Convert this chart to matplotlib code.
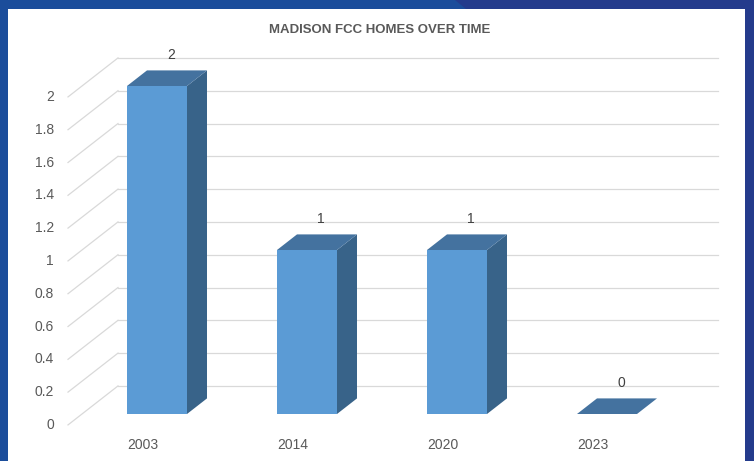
import matplotlib
matplotlib.use('Agg')
import matplotlib.pyplot as plt
from matplotlib.patches import Polygon, Rectangle

# === Dati ===
years = ['2003', '2014', '2020', '2023']
homes = [2, 1, 1, 0]
value_ticks = [0, 0.2, 0.4, 0.6, 0.8, 1.0, 1.2, 1.4, 1.6, 1.8, 2.0]
value_tick_labels = ['0', '0.2', '0.4', '0.6', '0.8', '1', '1.2', '1.4', '1.6', '1.8', '2']
title = 'MADISON FCC HOMES OVER TIME'

# === Configurazione ===
W, H = 754, 461
plt.rcParams['font.family'] = ['Liberation Sans', 'DejaVu Sans']
text_col = '#595959'
grid_col = '#d9d9d9'
front_col = '#5b9bd5'
side_col = '#386389'
top_col = '#44729f'

# pixel per unita' (categoria / valore)
px_x, px_y = 150.0, 164.0
# vettore di profondita' (una profondita' di barra)
DX, DY = 20 / px_x, 15.6 / px_y
d_back, d_front = 1.8, -0.7
bar_w = 0.4


def proj(x, v, d):
    return x + d * DX, v + d * DY


fig = plt.figure(figsize=(W / 100, H / 100), dpi=100, facecolor='#1b4d9b')

# Cornice blu e pannello bianco
fig.patches.append(Polygon([[455 / W, 1], [1, 1], [1, 0], [745 / W, 0],
                            [745 / W, 1 - 9 / H], [466 / W, 1 - 9 / H]],
                           closed=True, transform=fig.transFigure,
                           facecolor='#243b8c', edgecolor='none', zorder=-2))
fig.patches.append(Rectangle((8 / W, 0), 737 / W, 1 - 9 / H,
                             transform=fig.transFigure, facecolor='white',
                             edgecolor='none', zorder=-1))

ax = fig.add_axes([0, 0, 1, 1])
ax.set_xlim(-157 / px_x, (W - 157) / px_x)
ax.set_ylim(-(H - 414) / px_y, 414 / px_y)
ax.axis('off')
ax.patch.set_alpha(0)

x_lo, x_hi = -0.5, len(years) - 0.5

# Griglia: parete di fondo + parete laterale
for v, lab in zip(value_ticks, value_tick_labels):
    xa, ya = proj(x_lo, v, d_back)
    xb, yb = proj(x_hi, v, d_back)
    ax.plot([xa, xb], [ya, yb], color=grid_col, lw=0.9, zorder=1)
    xf, yf = proj(x_lo, v, d_front)
    ax.plot([xf, xa], [yf, ya], color=grid_col, lw=0.9, zorder=1)
    ax.annotate(lab, (xf, yf), xytext=(-10, 0), textcoords='offset points',
                ha='right', va='center', fontsize=10, color=text_col)

# Barre 3D
for i, (yr, val) in enumerate(zip(years, homes)):
    x0, x1 = i - bar_w / 2, i + bar_w / 2
    if val > 0:
        side = [(x1, 0), (x1, val), proj(x1, val, 1), proj(x1, 0, 1)]
        ax.add_patch(Polygon(side, closed=True, facecolor=side_col,
                             edgecolor='none', zorder=2))
        ax.add_patch(Rectangle((x0, 0), bar_w, val, facecolor=front_col,
                               edgecolor='none', zorder=3))
    top = [(x0, val), (x1, val), proj(x1, val, 1), proj(x0, val, 1)]
    ax.add_patch(Polygon(top, closed=True, facecolor=top_col,
                         edgecolor='none', zorder=3))

    # etichetta valore
    ax.annotate(str(val), proj(i, val, 0.5), xytext=(3, 16.5),
                textcoords='offset points', ha='center', va='center',
                fontsize=10, color='#404040', zorder=4)
    # etichetta categoria
    ax.annotate(yr, proj(i, 0, d_front), xytext=(0, -14.5),
                textcoords='offset points', ha='center', va='center',
                fontsize=10, color=text_col)

# Titolo
fig.text(380 / W, 1 - 30 / H, title, ha='center', va='center',
         fontsize=9.5, fontweight='bold', color=text_col, zorder=5)

fig.savefig('out.png', dpi=100, facecolor=fig.get_facecolor())
